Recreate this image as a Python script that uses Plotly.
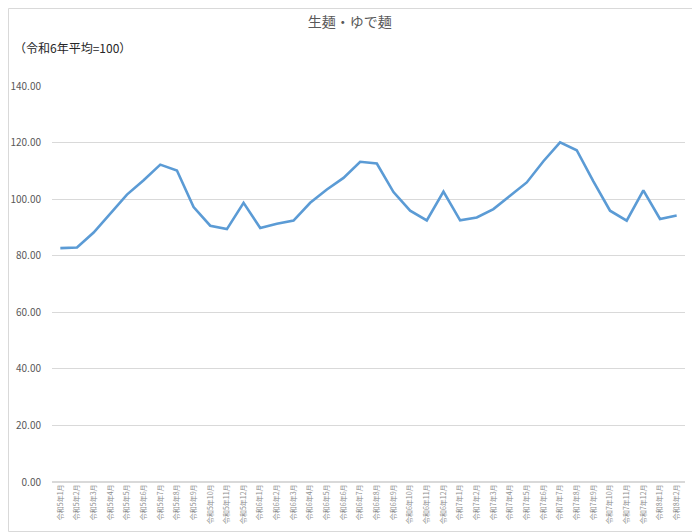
import plotly.graph_objects as go

# 月ラベル（令和5年1月〜令和8年2月）
months = (
    ['令和5年%d月' % m for m in range(1, 13)]
    + ['令和6年%d月' % m for m in range(1, 13)]
    + ['令和7年%d月' % m for m in range(1, 13)]
    + ['令和8年1月', '令和8年2月']
)

# 生麺・ゆで麺 指数（令和6年平均=100）
values = [
    82.7, 82.9, 88.2, 95.1, 101.6, 106.7, 112.2, 110.1, 97.2, 90.6, 89.4, 98.7,
    89.8, 91.3, 92.4, 98.7, 103.4, 107.5, 113.2, 112.6, 102.5, 95.9, 92.5, 102.7,
    92.5, 93.5, 96.5, 101.2, 105.9, 113.4, 120.1, 117.3, 106.3, 95.9, 92.4, 103.1,
    93.0, 94.2,
]

font_jp = 'Noto Sans CJK JP'

fig = go.Figure()
fig.add_trace(go.Scatter(
    x=months, y=values, mode='lines',
    line=dict(color='#5B9BD5', width=2.6),
    hoverinfo='x+y',
))

# the page body has an 8px margin, so the figure is a bit smaller
fig.update_layout(
    width=692, height=524,
    paper_bgcolor='white', plot_bgcolor='white',
    margin=dict(l=44, r=15, t=78, b=50),
    font=dict(family=font_jp, color='#595959'),
    title=dict(text='生麺・ゆで麺', x=0.494, xanchor='center', y=0.973, yanchor='middle',
               font=dict(size=14, color='#595959', family=font_jp)),
    showlegend=False,
    annotations=[dict(
        text='（令和6年平均=100）', xref='paper', yref='paper',
        x=-0.0632, y=1.098, xanchor='left', yanchor='middle', showarrow=False,
        font=dict(size=12, color='#262626', family=font_jp),
    )],
    shapes=[dict(
        type='rect', xref='paper', yref='paper',
        x0=-0.0687, x1=1.0229, y0=-0.125, y1=1.1957,
        line=dict(color='#D9D9D9', width=1), layer='below',
    )],
)

fig.update_xaxes(
    type='category', tickangle=-90, showgrid=False, ticks='', automargin=False,
    showline=False, tickfont=dict(size=7, color='#8c8c8c', family=font_jp),
    range=[-0.5, len(months) - 0.5],
)
fig.update_yaxes(
    range=[0, 140], dtick=20, tickformat='.2f', showgrid=True, automargin=False,
    gridcolor='#D9D9D9', gridwidth=1, zeroline=True, zerolinecolor='#D9D9D9',
    showline=False, ticks='', tickfont=dict(size=10, color='#595959', family=font_jp),
    ticklabelstandoff=10,
)

fig.write_html('out.html')
